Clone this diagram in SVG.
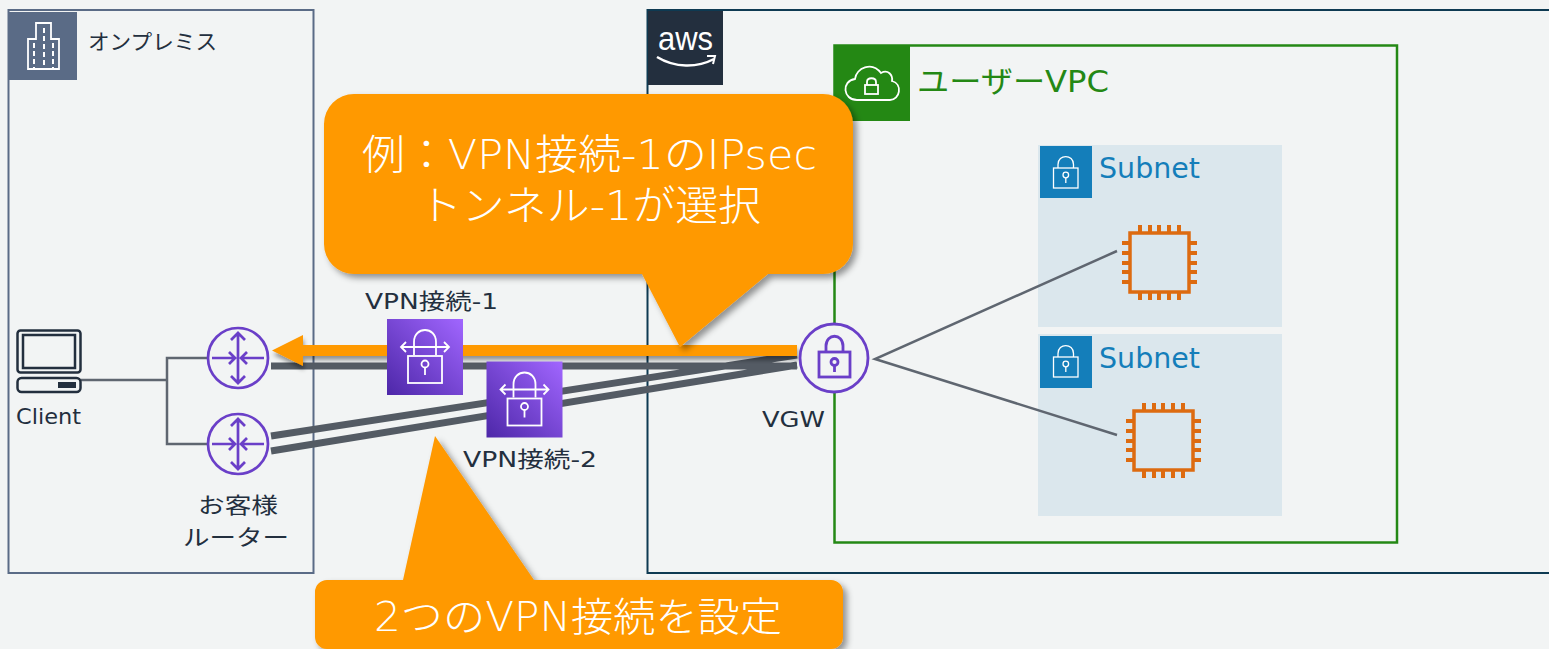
<svg xmlns="http://www.w3.org/2000/svg" width="1549" height="649" viewBox="0 0 1549 649">
<defs>
<linearGradient id="vpnGrad" x1="0" y1="1" x2="1" y2="0"><stop offset="0" stop-color="#4D27A8"/><stop offset="1" stop-color="#A166FF"/></linearGradient>
<filter id="shadow" x="-10%" y="-10%" width="120%" height="125%"><feDropShadow dx="4" dy="4" stdDeviation="3" flood-color="#000" flood-opacity="0.4"/></filter>
<filter id="lineShadow" x="-5%" y="-100%" width="110%" height="400%"><feDropShadow dx="1" dy="4" stdDeviation="2" flood-color="#000" flood-opacity="0.4"/></filter>
<g id="routerIcon" fill="none" stroke="#6A3FC8" stroke-width="2.700">
<circle r="30"/>
<path d="M0-25V25M-7-18L0-25L7-18M-7 18L0 25L7 18M-26 0H-3M-9-6L-3 0L-9 6M26 0H3M9-6L3 0L9 6"/>
</g>
<g id="vpnIcon">
<rect width="76" height="76" fill="url(#vpnGrad)"/>
<g fill="none" stroke="#fff" stroke-width="1.800">
<rect x="21" y="37" width="34" height="27"/>
<path d="M27 36V23C27 7 49 7 49 23V36M14 28H62M19 23L14 28L19 33M57 23L62 28L57 33"/>
<circle cx="38" cy="45" r="3.500"/><path d="M38 48.500V56"/>
</g>
</g>
<g id="subnetLock" fill="none" stroke="#fff" stroke-width="1.300">
<rect x="13.500" y="22" width="24.500" height="20"/>
<path d="M18 22V18.500C18 8 33.500 8 33.500 18.500V22"/>
<circle cx="25.800" cy="29" r="2.800"/><path d="M25.800 32V37"/>
</g>
<g id="chip" fill="none" stroke="#DD6B10">
<rect x="8" y="8" width="59" height="59" stroke-width="3.500"/>
<path stroke-width="4" d="M18 0V8M28 0V8M37 0V8M47 0V8M57 0V8M18 67V75M28 67V75M37 67V75M47 67V75M57 67V75M0 18H8M0 28H8M0 38H8M0 47H8M0 57H8M67 18H75M67 28H75M67 38H75M67 47H75M67 57H75"/>
</g>
</defs>
<style>
text{font-family:"DejaVu Sans","Noto Sans CJK JP",sans-serif;fill:#232F3E}
.lbl{font-size:22px;font-weight:400}
.call{fill:#fff;font-weight:300}
.sub{fill:#147EBA;font-size:29px;font-weight:400}
.thick{fill:none;stroke:#545B64;stroke-width:7}
.thin{fill:none;stroke:#5F6670;stroke-width:2.500}
</style>
<rect width="1549" height="649" fill="#F2F4F4"/>

<g id="onprem">
<rect x="8.500" y="10" width="305" height="563" fill="none" stroke="#5A6B86" stroke-width="2"/>
<rect x="8" y="12" width="69" height="68" fill="#5A6B86"/>
<g fill="none" stroke="#fff">
<path stroke-width="1.800" d="M28 69V39H36V23H51V39H59V69Z"/>
<path stroke-width="2" stroke-dasharray="5 3" d="M34 43V68M44 28V68M53 43V68"/>
</g>
<text x="88" y="49" font-size="21" font-weight="400" textLength="129" lengthAdjust="spacingAndGlyphs">オンプレミス</text>
</g>

<g id="aws">
<path d="M1549 10H647.500V573H1549" fill="none" stroke="#0E3A52" stroke-width="2"/>
<rect x="648" y="11" width="75" height="74" fill="#232F3E"/>
<text x="658" y="50" font-size="33" textLength="55" lengthAdjust="spacingAndGlyphs" style="fill:#fff;font-family:'Liberation Sans',sans-serif">aws</text>
<path d="M657 57C675 68 697 68 714 59" fill="none" stroke="#fff" stroke-width="2.500"/>
<path d="M707 56L715 56L713 64" fill="none" stroke="#fff" stroke-width="2"/>
</g>

<g id="vpc">
<rect x="834.500" y="45.500" width="562.500" height="497" fill="none" stroke="#248814" stroke-width="2.500"/>
<rect x="834" y="46" width="76" height="75" fill="#248814"/>
<path d="M857 100C843 100 841 81 855 79C856 68 872 61 881 73C888 69 893 75 892 81C903 84 900 100 890 100Z" fill="none" stroke="#fff" stroke-width="1.800"/>
<g fill="none" stroke="#fff" stroke-width="1.800"><rect x="865" y="85" width="13" height="9"/><path d="M867 85V82C867 77 876 77 876 82V85"/></g>
<text x="917" y="92" font-size="30" font-weight="400" textLength="192" lengthAdjust="spacingAndGlyphs" style="fill:#248814">ユーザーVPC</text>
</g>

<g id="subnet1">
<rect x="1038" y="145" width="244" height="182" fill="#DBE7ED"/>
<rect x="1040" y="146" width="52" height="52" fill="#147EBA"/>
<use href="#subnetLock" x="1040" y="146"/>
<text class="sub" x="1099" y="178" textLength="101" lengthAdjust="spacingAndGlyphs">Subnet</text>
</g>
<g id="subnet2">
<rect x="1038" y="334" width="244" height="182" fill="#DBE7ED"/>
<rect x="1040" y="336" width="52" height="52" fill="#147EBA"/>
<use href="#subnetLock" x="1040" y="335"/>
<text class="sub" x="1099" y="368" textLength="101" lengthAdjust="spacingAndGlyphs">Subnet</text>
</g>
<g id="ec2-1"><use href="#chip" x="1122" y="225"/></g>
<g id="ec2-2"><use href="#chip" x="1126" y="403"/></g>

<g id="connectors">
<path class="thin" d="M81 380H167M207 358H167V444H207"/>
<path class="thin" d="M1117 251L875 359L1117 435"/>
<path class="thick" d="M271 366H797M271 436L797 355M271 451L797 365"/>
<g filter="url(#lineShadow)">
<path d="M797 345H303V335L272 350.500L303 366V356H797Z" fill="#FF9900"/>
</g>
</g>

<g id="client">
<g fill="none" stroke="#232F3E" stroke-width="2.500">
<rect x="17.500" y="330.500" width="63" height="42" rx="3"/>
<rect x="23" y="335" width="52" height="33"/>
<rect x="17.500" y="378" width="63" height="14" rx="4"/>
</g>
<rect x="58" y="382" width="18" height="6" fill="#232F3E"/>
<text class="lbl" x="16" y="424" font-size="23" textLength="65" lengthAdjust="spacingAndGlyphs">Client</text>
</g>

<g id="router1"><use href="#routerIcon" x="238" y="358"/></g>
<g id="router2"><use href="#routerIcon" x="238" y="444"/>
<text class="lbl" x="238" y="513" text-anchor="middle" textLength="80" lengthAdjust="spacingAndGlyphs">お客様</text>
<text class="lbl" x="236" y="545" text-anchor="middle" textLength="106" lengthAdjust="spacingAndGlyphs">ルーター</text>
</g>

<g id="vgw">
<circle cx="834" cy="358" r="34" fill="#F2F4F4" stroke="#6A3FC8" stroke-width="2.800"/>
<g fill="none" stroke="#6A3FC8" stroke-width="2.800">
<rect x="819" y="352" width="31" height="25"/>
<path d="M826 351V346C826 333 843 333 843 346V351"/>
<circle cx="834.500" cy="362" r="3.500"/>
<path d="M834.500 365V372"/>
</g>
<text class="lbl" x="762" y="427" textLength="63" lengthAdjust="spacingAndGlyphs">VGW</text>
</g>

<g id="vpn1"><use href="#vpnIcon" x="387" y="319"/>
<text class="lbl" x="365" y="309" textLength="133" lengthAdjust="spacingAndGlyphs">VPN接続-1</text></g>
<g id="vpn2"><use href="#vpnIcon" x="486.500" y="361.500"/>
<text class="lbl" x="463" y="467" textLength="134" lengthAdjust="spacingAndGlyphs">VPN接続-2</text></g>

<g id="callout1">
<path filter="url(#shadow)" d="M354 94H823A30 30 0 0 1 853 124V244A30 30 0 0 1 823 274H768L680 347L642 274H354A30 30 0 0 1 324 244V124A30 30 0 0 1 354 94Z" fill="#FF9900"/>
<text class="call" x="362" y="169" font-size="41" textLength="455" lengthAdjust="spacingAndGlyphs">例：VPN接続-1のIPsec</text>
<text class="call" x="419" y="220" font-size="41" textLength="342" lengthAdjust="spacingAndGlyphs">トンネル-1が選択</text>
</g>

<g id="callout2">
<path filter="url(#shadow)" d="M327 580H403L435 436L534 580H831A12 12 0 0 1 843 592V637A12 12 0 0 1 831 649H327A12 12 0 0 1 315 637V592A12 12 0 0 1 327 580Z" fill="#FF9900"/>
<text class="call" x="374" y="631" font-size="40" textLength="408" lengthAdjust="spacingAndGlyphs">2つのVPN接続を設定</text>
</g>
</svg>
